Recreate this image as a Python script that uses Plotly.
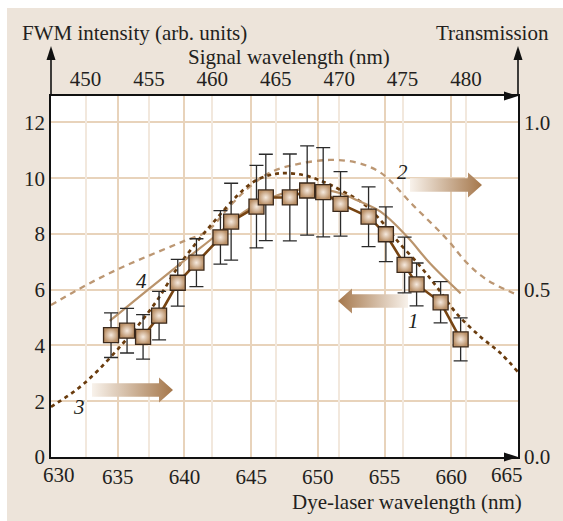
import plotly.graph_objects as go

# ---------------- data ----------------
# measured FWM intensity vs. dye-laser wavelength (curve 1)
dye_nm = [634.5, 635.7, 636.9, 638.1, 639.5, 640.9, 642.7, 643.5, 645.4, 646.1,
          647.9, 649.2, 650.4, 651.7, 653.8, 655.1, 656.5, 657.4, 659.2, 660.7]
fwm = [4.37, 4.53, 4.31, 5.07, 6.25, 6.97, 7.88, 8.44, 8.98, 9.31,
       9.31, 9.56, 9.50, 9.08, 8.62, 7.99, 6.89, 6.19, 5.55, 4.22]
fwm_err = [0.80, 0.80, 0.80, 0.87, 0.84, 0.86, 0.96, 1.38, 1.48, 1.55,
           1.56, 1.60, 1.60, 1.16, 1.07, 0.98, 1.00, 0.77, 0.74, 0.77]

# calculated FWM intensity (curve 4)
calc_nm = [634.4, 637.0, 640.0, 642.5, 644.5, 646.5, 648.5, 650.0, 651.7,
           653.0, 654.7, 656.7, 658.4, 660.7]
calc_fwm = [4.88, 5.90, 7.05, 8.00, 8.80, 9.30, 9.58, 9.62, 9.46,
            9.20, 8.80, 7.90, 6.95, 5.87]

# filter transmission (curve 2)
filt2_nm = [630.0, 632.0, 634.0, 636.0, 638.0, 640.0, 641.7, 643.4, 644.9, 646.4,
            648.4, 650.9, 652.9, 654.7, 657.2, 659.7, 661.2, 662.7, 664.7]
filt2_T = [0.454, 0.500, 0.542, 0.579, 0.613, 0.646, 0.675, 0.750, 0.808, 0.850,
           0.875, 0.888, 0.880, 0.850, 0.750, 0.650, 0.579, 0.529, 0.489]

# filter transmission (curve 3)
filt3_nm = [630.0, 632.0, 633.5, 635.0, 636.5, 638.0, 639.5, 641.0, 642.5, 644.0,
            645.0, 646.0, 647.2, 648.9, 650.4, 651.7, 653.4, 654.7, 655.9, 657.7,
            658.9, 660.4, 662.2, 663.7, 665.0]
filt3_T = [0.150, 0.204, 0.258, 0.322, 0.392, 0.471, 0.567, 0.646, 0.717, 0.783,
           0.818, 0.838, 0.848, 0.843, 0.823, 0.798, 0.758, 0.708, 0.649, 0.569,
           0.509, 0.429, 0.359, 0.310, 0.254]

bottom_ticks = [635, 640, 645, 650, 655, 660]
top_ticks = [450, 455, 460, 465, 470, 475, 480]
left_ticks = [0, 2, 4, 6, 8, 10, 12]
right_ticks = [0.0, 0.5, 1.0]
right_labels = ["0.0", "0.5", "1.0"]

# ---------------- geometry / style ----------------
W, H = 563, 521
L, R, T, B = 51, 518, 96, 457          # plot area in pixels
X_RANGE = [630, 665]
FWM_TOP = 12.95
TR_TOP = FWM_TOP / 12.0
SIG_RANGE = [447.28, 484.10]

FONT = "Liberation Serif"
INK = "#231F20"
BEIGE = "#EDE4DA"
GRID = "#E8D3BB"
GRID_LIGHT = "#F2E8DD"
BROWN = "#774412"
TAN = "#BA946C"
LIGHT_TAN = "#BC9773"


def px_to_paper(px, py):
    return (px - L) / (R - L), (B - py) / (B - T)


def px_to_data(px, py):
    x = X_RANGE[0] + (px - L) / (R - L) * (X_RANGE[1] - X_RANGE[0])
    y = (B - py) / (B - T) * TR_TOP
    return x, y


fig = go.Figure()

# transmission curves (right axis)
fig.add_trace(go.Scatter(
    x=filt2_nm, y=filt2_T, mode="lines", xaxis="x", yaxis="y",
    line=dict(color=LIGHT_TAN, width=2.3, dash="6px,5px", shape="spline"),
    hoverinfo="skip"))
fig.add_trace(go.Scatter(
    x=filt3_nm, y=filt3_T, mode="lines", xaxis="x", yaxis="y",
    line=dict(color="#6A3C0E", width=2.7, dash="4px,4px", shape="spline"),
    hoverinfo="skip"))


# block arrows with a colour fade towards the head
def flow_arrow(tail_px, tip_px, y_px, shaft=6.7, head=12.5, head_len=14):
    d = 1 if tip_px > tail_px else -1
    base = tip_px - d * head_len
    pts = [(tail_px, y_px - shaft), (base, y_px - shaft), (base, y_px - head),
           (tip_px, y_px), (base, y_px + head), (base, y_px + shaft),
           (tail_px, y_px + shaft), (tail_px, y_px - shaft)]
    xs, ys = zip(*[px_to_data(a, b) for a, b in pts])
    light, dark = "#F8F2EB", "#A5774B"
    scale = [[0, light], [1, dark]] if d > 0 else [[0, dark], [1, light]]
    fig.add_trace(go.Scatter(
        x=list(xs), y=list(ys), mode="lines", fill="toself",
        line=dict(width=0, color="rgba(0,0,0,0)"),
        fillgradient=dict(type="horizontal", colorscale=scale),
        xaxis="x", yaxis="y", hoverinfo="skip"))


flow_arrow(410, 482, 185)
flow_arrow(408, 338, 301)
flow_arrow(92, 173, 390)

# FWM curves (left axis)
fig.add_trace(go.Scatter(
    x=calc_nm, y=calc_fwm, mode="lines", xaxis="x", yaxis="y2",
    line=dict(color=TAN, width=2.2, shape="spline"), hoverinfo="skip"))
fig.add_trace(go.Scatter(
    x=dye_nm, y=fwm, mode="lines+markers", xaxis="x", yaxis="y2",
    line=dict(color=BROWN, width=2.6),
    marker=dict(symbol="square", size=15, color="#B98F66",
                gradient=dict(type="radial", color="#F6EADF"),
                line=dict(color="#3A281A", width=1.3)),
    error_y=dict(type="data", array=fwm_err, color="#2A2A2A",
                 thickness=1.3, width=7),
    hoverinfo="skip"))

# placeholder so the signal-wavelength axis is drawn
fig.add_trace(go.Scatter(x=[top_ticks[0], top_ticks[-1]], y=[None, None],
                         mode="markers", xaxis="x2", yaxis="y",
                         hoverinfo="skip", showlegend=False))

axis_common = dict(showline=True, linecolor="#111111", linewidth=1.6,
                   ticks="", zeroline=False,
                   tickfont=dict(family=FONT, size=21, color=INK))

fig.update_layout(
    width=W, height=H,
    margin=dict(l=L, r=W - R, t=T, b=H - B, pad=0),
    paper_bgcolor=BEIGE, plot_bgcolor="white",
    showlegend=False,
    font=dict(family=FONT, size=21, color=INK),
    xaxis=dict(range=X_RANGE, tickvals=bottom_ticks, showgrid=True,
               gridcolor=GRID, gridwidth=2, **axis_common),
    xaxis2=dict(range=SIG_RANGE, tickvals=top_ticks, overlaying="x",
                side="top", showgrid=True, gridcolor=GRID_LIGHT, gridwidth=2,
                **axis_common),
    yaxis=dict(range=[0, TR_TOP], tickvals=right_ticks, ticktext=right_labels,
               side="right", showgrid=False, **axis_common),
    yaxis2=dict(range=[0, FWM_TOP], tickvals=left_ticks, overlaying="y",
                side="left", showgrid=True, gridcolor=GRID, gridwidth=2,
                **axis_common),
)

# white margin strip along the top and left edges
shapes = []
x0, _ = px_to_paper(0, 0)
x7, _ = px_to_paper(7, 0)
xR, _ = px_to_paper(W, 0)
_, y0 = px_to_paper(0, 0)
_, y8 = px_to_paper(0, 8)
_, yB = px_to_paper(0, H)
shapes.append(dict(type="rect", xref="paper", yref="paper", x0=x0, x1=x7,
                   y0=yB, y1=y0, fillcolor="white", line=dict(width=0),
                   layer="below"))
shapes.append(dict(type="rect", xref="paper", yref="paper", x0=x0, x1=xR,
                   y0=y8, y1=y0, fillcolor="white", line=dict(width=0),
                   layer="below"))


# axis arrows
def seg(p, q):
    a, b = px_to_paper(*p)
    c, d = px_to_paper(*q)
    return dict(type="line", xref="paper", yref="paper", x0=a, y0=b, x1=c,
                y1=d, line=dict(color="#111111", width=1.6), layer="above")


def head(tip, direction, length=14, half=4.5):
    tx, ty = tip
    if direction == "up":
        pts = [(tx, ty), (tx - half, ty + length), (tx + half, ty + length)]
    else:
        pts = [(tx, ty), (tx - length, ty - half), (tx - length, ty + half)]
    p = [px_to_paper(*q) for q in pts]
    path = "M{},{} L{},{} L{},{} Z".format(p[0][0], p[0][1], p[1][0], p[1][1],
                                           p[2][0], p[2][1])
    return dict(type="path", xref="paper", yref="paper", path=path,
                fillcolor="#111111", line=dict(width=0), layer="above")


TIP_Y = 46
shapes += [seg((L, T), (L, TIP_Y + 8)), seg((R, T), (R, TIP_Y + 8)),
           head((L, TIP_Y), "up"), head((R, TIP_Y), "up"),
           head((R, T), "right"), head((R, B), "right")]
fig.update_layout(shapes=shapes)

annotations = []


def text(s, px, py, anchor="center", size=21, italic=False):
    x, y = px_to_paper(px, py)
    annotations.append(dict(
        text="<i>{}</i>".format(s) if italic else s,
        x=x, y=y, xref="paper", yref="paper", showarrow=False,
        xanchor=anchor, yanchor="middle",
        font=dict(family=FONT, size=size, color=INK)))


text("FWM intensity (arb. units)", 20, 33, "left")
text("Transmission", 551, 33, "right")
text("Signal wavelength (nm)", 289, 57)
text("Dye-laser wavelength (nm)", 524, 502, "right")
text("630", 59, 475)
text("665", 507, 475)
text("1", 413, 321, italic=True)
text("2", 402, 172, italic=True)
text("3", 79, 407, italic=True)
text("4", 141, 281, italic=True)
fig.update_layout(annotations=annotations)

fig.write_html("out.html")
